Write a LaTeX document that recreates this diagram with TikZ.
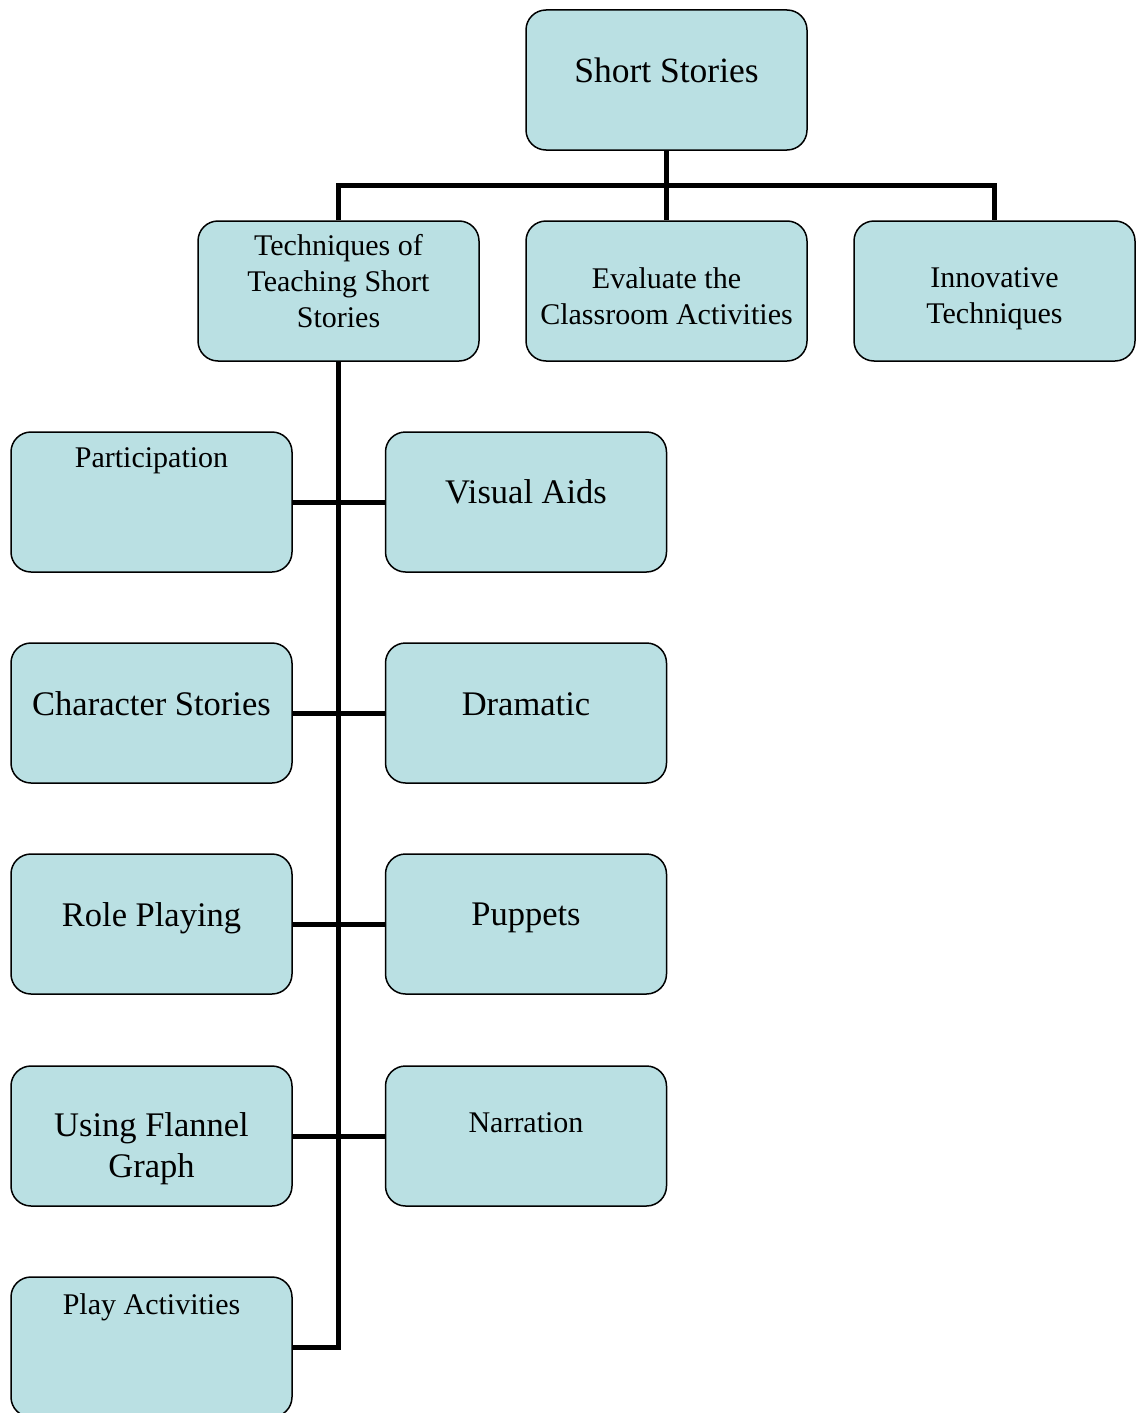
\documentclass[tikz,border=0pt]{standalone}
\usepackage{fontspec}
\setmainfont{Liberation Serif}
\definecolor{boxfill}{RGB}{186,224,227}
\begin{document}
\begin{tikzpicture}[x=1pt,y=-1pt,
  box/.style={draw=black,line width=1.5pt,fill=boxfill,rounded corners=20pt,
    minimum width=281pt,minimum height=140pt,inner sep=0pt},
  conn/.style={line width=5pt,line cap=butt},
  small/.style={font=\fontsize{30}{36}\selectfont,align=center,inner sep=0pt},
  large/.style={font=\fontsize{34.5}{41}\selectfont,align=center,inner sep=0pt},
  huge/.style={font=\fontsize{35.5}{42}\selectfont,align=center,inner sep=0pt}]
\useasboundingbox (0,0) rectangle (1136,1413);
\begin{scope}
\clip (0,0) rectangle (1136,1413);
% boxes
\node[box] (ss) at (666.5,80) {};
\node[box] (tech) at (338.5,291) {};
\node[box] (eval) at (666.5,291) {};
\node[box] (innov) at (994.5,291) {};
\node[box] (part) at (151.5,502) {};
\node[box] (vis) at (526,502) {};
\node[box] (char) at (151.5,713) {};
\node[box] (dram) at (526,713) {};
\node[box] (role) at (151.5,924) {};
\node[box] (pupp) at (526,924) {};
\node[box] (flan) at (151.5,1136) {};
\node[box] (narr) at (526,1136) {};
\node[box] (play) at (151.5,1347) {};
\end{scope}
% texts
\node[huge] (tss) at (666.5,70.5) {Short Stories};
\node[small] (ttech) at (338.5,281) {Techniques of\\Teaching Short\\Stories};
\node[small] (teval) at (666.5,296) {Evaluate the\\Classroom Activities};
\node[small] (tinnov) at (994.5,299) {Innovative\\Techniques};
\node[small] (tpart) at (151.5,461) {Participation};
\node[large] (tvis) at (526,492) {Visual Aids};
\node[large] (tchar) at (151.5,704) {Character Stories};
\node[large] (tdram) at (526,704) {Dramatic};
\node[large] (trole) at (151.5,918) {Role Playing};
\node[large] (tpupp) at (526,918) {Puppets};
\node[large] (tflan) at (151.5,1149) {Using Flannel\\Graph};
\node[small] (tnarr) at (526,1123) {Narration};
\node[small] (tplay) at (151.5,1307) {Play Activities};
% connectors
\coordinate (bus) at (666.5,185);
\draw[conn] (ss.south) -- (eval.north);
\draw[conn] (tech.north) -- (tech.north |- bus) -| (innov.north);
\draw[conn] (tech.south) |- (play.east);
\draw[conn] (part.east) -- (vis.west);
\draw[conn] (char.east) -- (dram.west);
\draw[conn] (role.east) -- (pupp.west);
\draw[conn] (flan.east) -- (narr.west);
\end{tikzpicture}
\end{document}
